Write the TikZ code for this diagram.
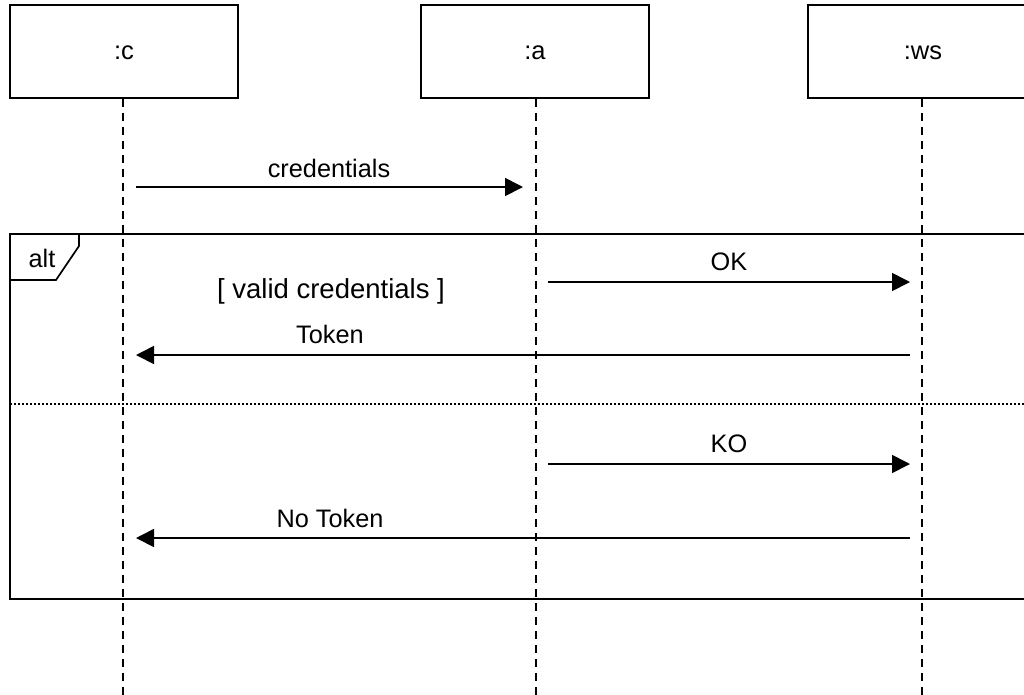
\documentclass[tikz,border=0pt]{standalone}
\usepackage{fontspec}
\setmainfont{Liberation Sans}
\usetikzlibrary{arrows.meta}
\tikzset{
  obj/.style={draw, line width=1.6pt, minimum width=228pt, minimum height=93pt, inner sep=0pt},
  objtext/.style={inner sep=0pt, font=\fontsize{25.5}{30}\selectfont},
  life/.style={line width=1.7pt, dash pattern=on 8pt off 6pt},
  msg/.style={line width=1.7pt, -{Triangle[length=18pt,width=18pt]}},
  lbl/.style={inner sep=0pt, font=\fontsize{25.3}{30}\selectfont},
  guardlbl/.style={inner sep=0pt, font=\fontsize{27.5}{32}\selectfont},
  frame/.style={line width=1.7pt},
  sep/.style={line width=1.5pt, dash pattern=on 2pt off 2pt}
}
\begin{document}
\begin{tikzpicture}[x=1pt,y=-1pt]
\useasboundingbox (0,0) rectangle (1024,694);
\clip (0,0) rectangle (1024,694);
\fill[white] (0,0) rectangle (1024,694);
% objects
\node[obj] (c) at (124,51.5) {};
\node[obj] (a) at (535,51.5) {};
\node[obj] (ws) at (922,51.5) {};
\node[objtext] (ct) at (124,53) {:c};
\node[objtext] (at) at (535,53) {:a};
\node[objtext] (wst) at (923,53) {:ws};
% lifeline ends
\coordinate (cend) at (123,700);
\coordinate (aend) at (536,700);
\coordinate (wsend) at (922,700);
\draw[life] (c.south -| cend) -- (cend);
\draw[life] (a.south -| aend) -- (aend);
\draw[life] (ws.south -| wsend) -- (wsend);
% credentials
\coordinate (m1s) at (136,187);
\coordinate (m1e) at (523,187);
\draw[msg] (m1s) -- (m1e);
\node[lbl] (l1) at (329,168) {credentials};
% alt frame
\coordinate (fTL) at (10,234);
\coordinate (fBR) at (1040,599);
\draw[frame] (fTL) rectangle (fBR);
\draw[frame] (10,280) -- (56,280) -- (79,246) -- (79,234);
\node[lbl] (alt) at (42,258) {alt};
\node[guardlbl] (guard) at (331,291) {[ valid credentials ]};
\coordinate (sepL) at (10,404);
\coordinate (sepR) at (1040,404);
\draw[sep] (sepL) -- (sepR);
% OK
\coordinate (m2s) at (548,282);
\coordinate (m2e) at (910,282);
\draw[msg] (m2s) -- (m2e);
\node[lbl] (l2) at (729,262) {OK};
% Token
\coordinate (m3s) at (910,355);
\coordinate (m3e) at (136,355);
\draw[msg] (m3s) -- (m3e);
\node[lbl] (l3) at (330,334) {Token};
% KO
\coordinate (m4s) at (548,464);
\coordinate (m4e) at (910,464);
\draw[msg] (m4s) -- (m4e);
\node[lbl] (l4) at (729,444) {KO};
% No Token
\coordinate (m5s) at (910,538);
\coordinate (m5e) at (136,538);
\draw[msg] (m5s) -- (m5e);
\node[lbl] (l5) at (330,518) {No Token};
\end{tikzpicture}
\end{document}
